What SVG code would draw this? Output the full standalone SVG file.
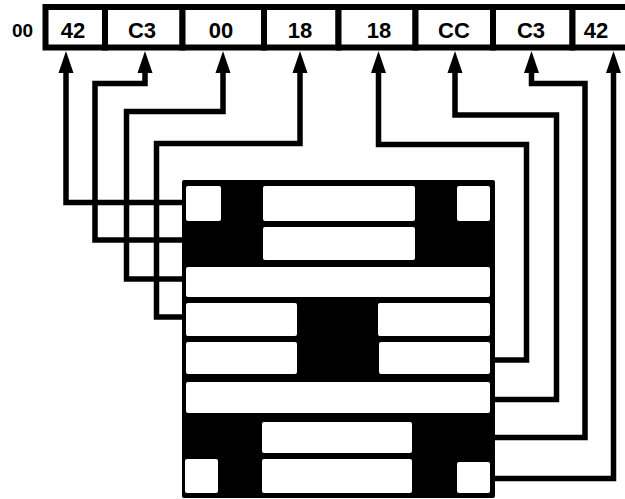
<svg xmlns="http://www.w3.org/2000/svg" width="625" height="499" viewBox="0 0 625 499">
<defs>
<style>
.cell{fill:#fff;stroke:#000;stroke-width:6}
.lbl{font-family:"Liberation Sans",Arial,sans-serif;font-weight:bold;font-size:22px;text-anchor:middle;fill:#000}
.conn{fill:none;stroke:#000;stroke-width:5.5;stroke-linejoin:miter;stroke-linecap:square}
.w{fill:#fff;stroke:none}
</style>
<marker id="ah" markerUnits="userSpaceOnUse" markerWidth="30" markerHeight="20" refX="2" refY="0" viewBox="0 -10 30 20" orient="auto" overflow="visible">
<path d="M0,-7.5 L22,0 L0,7.5 Z" fill="#000"/>
</marker>
</defs>
<rect width="625" height="499" fill="#fff"/>

<g id="label-00">
<text class="lbl" x="22.5" y="37" style="font-size:19px">00</text>
</g>

<g id="byte1"><rect class="cell" x="45.5" y="7" width="59.5" height="40.5"/><text class="lbl" x="73" y="37.5">42</text></g>
<g id="byte2"><rect class="cell" x="105" y="7" width="77.5" height="40.5"/><text class="lbl" x="142" y="37.5">C3</text></g>
<g id="byte3"><rect class="cell" x="182.5" y="7" width="81.5" height="40.5"/><text class="lbl" x="221" y="37.5">00</text></g>
<g id="byte4"><rect class="cell" x="264" y="7" width="74.5" height="40.5"/><text class="lbl" x="300" y="37.5">18</text></g>
<g id="byte5"><rect class="cell" x="338.5" y="7" width="77" height="40.5"/><text class="lbl" x="379" y="37.5">18</text></g>
<g id="byte6"><rect class="cell" x="415.5" y="7" width="77.5" height="40.5"/><text class="lbl" x="454" y="37.5">CC</text></g>
<g id="byte7"><rect class="cell" x="493" y="7" width="79.5" height="40.5"/><text class="lbl" x="531" y="37.5">C3</text></g>
<g id="byte8"><rect class="cell" x="572.5" y="7" width="60" height="40.5"/><text class="lbl" x="596" y="37.5">42</text></g>

<g id="grid">
<rect x="182" y="180" width="313" height="318" rx="2" fill="#000"/>
<rect class="w" x="186" y="186" width="35" height="35" rx="2"/>
<rect class="w" x="263" y="186" width="152" height="35" rx="2"/>
<rect class="w" x="457" y="186" width="33" height="35" rx="2"/>
<rect class="w" x="263" y="227" width="152" height="33" rx="2"/>
<rect class="w" x="186" y="267" width="304" height="30" rx="2"/>
<rect class="w" x="186" y="303" width="111" height="33" rx="2"/>
<rect class="w" x="378" y="303" width="112" height="33" rx="2"/>
<rect class="w" x="186" y="342" width="111" height="32" rx="2"/>
<rect class="w" x="379" y="342" width="111" height="32" rx="2"/>
<rect class="w" x="186" y="382" width="304" height="31" rx="2"/>
<rect class="w" x="262" y="422" width="150" height="31" rx="2"/>
<rect class="w" x="185" y="459" width="33" height="34" rx="2"/>
<rect class="w" x="262" y="459" width="150" height="34" rx="2"/>
<rect class="w" x="457" y="462" width="33" height="31" rx="2"/>
</g>

<g id="connectors">
<path class="conn" marker-end="url(#ah)" d="M183,202.5 H66 V71"/>
<path class="conn" marker-end="url(#ah)" d="M183,240 H95 V83.5 H145 V71"/>
<path class="conn" marker-end="url(#ah)" d="M183,279 H126.5 V111.5 H223 V71"/>
<path class="conn" marker-end="url(#ah)" d="M183,317 H156.5 V143.5 H300 V71"/>
<path class="conn" marker-end="url(#ah)" d="M494,360 H526.5 V144.5 H378.5 V71"/>
<path class="conn" marker-end="url(#ah)" d="M494,399.5 H556.5 V115 H455 V71"/>
<path class="conn" marker-end="url(#ah)" d="M494,437.5 H585 V83.5 H531.5 V71"/>
<path class="conn" marker-end="url(#ah)" d="M494,478.5 H613.5 V71"/>
</g>
</svg>
